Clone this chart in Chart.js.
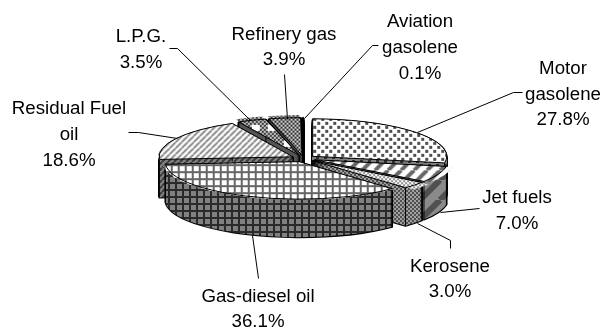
<!DOCTYPE html>
<html>
<head>
<meta charset="utf-8">
<style>html,body{margin:0;padding:0;background:#fff}canvas{display:block}</style>
<script src="https://cdn.jsdelivr.net/npm/chart.js@4"></script>
</head>
<body>
<canvas id="c" width="602" height="328"></canvas>
<script>
// ---- data ----
const categories = ['Motor gasolene','Jet fuels','Kerosene','Gas-diesel oil','Residual Fuel oil','L.P.G.','Refinery gas','Aviation gasolene'];
const shares = [27.8, 7.0, 3.0, 36.1, 18.6, 3.5, 3.9, 0.1];
const labelLines = [
  ['Motor','gasolene','27.8%'],
  ['Jet fuels','7.0%'],
  ['Kerosene','3.0%'],
  ['Gas-diesel oil','36.1%'],
  ['Residual Fuel','oil','18.6%'],
  ['L.P.G.','3.5%'],
  ['Refinery gas','3.9%'],
  ['Aviation','gasolene','0.1%']
];
// ---- label layout (centre x, baseline of each line) ----
const labelX = [563, 517, 450, 258, 69, 141, 284, 420];
const labelY = [[74,100,125],[203,229],[272,297],[302,327],[114,140,166],[42,68],[40,65],[27,53,79]];
const leaders = [
  [[417,132],[513,92],[522,92]],
  [[440,212],[479,208]],
  [[417,223],[450,240],[450,248]],
  [[252,235],[258,278]],
  [[177,138],[138,132],[128,132]],
  [[250,120],[177,48],[169,48]],
  [[287,119],[284,74]],
  [[304,118],[372,45],[378,45]]
];
// ---- 3D look ----
const TILT = 0.28, DEPTH = 38, RADIUS = 134, EXPLODE = 48;

function tile(w, h, paint) {
  const c = document.createElement('canvas'); c.width = w; c.height = h;
  const g = c.getContext('2d'); paint(g, w, h);
  return g.createPattern(c, 'repeat');
}
const dots = (p, q, s, bg, fg) => tile(p, q, (g, w, h) => {
  g.fillStyle = bg; g.fillRect(0,0,w,h); g.fillStyle = fg;
  g.fillRect(0,0,s,s); g.fillRect(p/2,q/2,s,s);
});
const diag = (p, lw, bg, fg) => tile(p, p, (g, w, h) => {
  g.fillStyle = bg; g.fillRect(0,0,w,h); g.strokeStyle = fg; g.lineWidth = lw;
  for (const o of [-p,0,p]) { g.beginPath(); g.moveTo(o,p); g.lineTo(o+p,0); g.stroke(); }
});
const grid = (p, lw, bg, fg) => tile(p, p, (g, w, h) => {
  g.fillStyle = bg; g.fillRect(0,0,w,h); g.fillStyle = fg;
  g.fillRect(0,0,lw,h); g.fillRect(0,0,w,lw);
});
const lpg = (a, b, c) => tile(16, 16, (g) => {
  g.fillStyle = a; g.fillRect(0,0,16,16); g.fillStyle = b;
  for (let y=0;y<16;y+=2) for (let x=(y%4?2:0);x<16;x+=4) g.fillRect(x,y,2,2);
  g.fillStyle = c; g.fillRect(0,0,8,6); 
});

const topFills = [
  dots(8,8,3,'#ffffff','#505050'),
  diag(13,4,'#ffffff','#666666'),
  dots(4,4,2,'#ffffff','#909090'),
  grid(7,2,'#ffffff','#666666'),
  diag(6,1.6,'#ffffff','#777777'),
  lpg('#c0c0c0','#404040','#ffffff'),
  dots(4,4,2,'#d0d0d0','#303030'),
  '#000000'
];
const sideFills = [
  dots(8,8,3,'#808080','#303030'),
  diag(20,6,'#8a8a8a','#505050'),
  dots(4,4,2,'#a0a0a0','#505050'),
  grid(7,2,'#808080','#2a2a2a'),
  diag(6,2,'#808080','#3a3a3a'),
  '#555555',
  '#444444',
  '#000000'
];

function geom(el) {
  const p = el.getProps(['x','y','startAngle','endAngle','outerRadius'], true);
  const mid = (p.startAngle + p.endAngle) / 2;
  const off = (el.options.offset || 0) / 4;
  return {
    cx: p.x + Math.cos(mid) * off,
    cy: p.y + Math.sin(mid) * off * TILT,
    r: p.outerRadius, ry: p.outerRadius * TILT,
    s: p.startAngle, e: p.endAngle, mid
  };
}
function sector(ctx, g, dy) {
  ctx.beginPath();
  ctx.moveTo(g.cx, g.cy + dy);
  ctx.ellipse(g.cx, g.cy + dy, g.r, g.ry, 0, g.s, g.e);
  ctx.closePath();
}

const pie3d = {
  id: 'pie3d',
  beforeDatasetDraw(chart, args) {
    const ctx = chart.ctx;
    const arcs = args.meta.data;
    const order = arcs.map((el, i) => ({ i, g: geom(el) })).sort((a, b) => Math.sin(a.g.mid) - Math.sin(b.g.mid));
    for (const { i, g } of order) {
      ctx.save();
      ctx.strokeStyle = '#000'; ctx.lineWidth = 2; ctx.lineJoin = 'round';
      for (let d = DEPTH; d >= 1; d--) { sector(ctx, g, d); ctx.stroke(); }
      ctx.fillStyle = sideFills[i];
      for (let d = DEPTH; d >= 1; d--) { sector(ctx, g, d); ctx.fill(); }
      ctx.lineWidth = 1;
      ctx.beginPath();
      for (const t of [g.s, g.e]) {
        const x = g.cx + g.r * Math.cos(t), y = g.cy + g.ry * Math.sin(t);
        ctx.moveTo(x, y); ctx.lineTo(x, y + DEPTH);
      }
      ctx.stroke();
      ctx.restore();
    }
    // squash the library's own arcs into the tilted plane
    const y0 = arcs[0].y, c = y0 * (1 - TILT);
    const inv = new DOMMatrix().scale(1, 1 / TILT).translate(0, -c);
    topFills.forEach(f => { if (f instanceof CanvasPattern) f.setTransform(inv); });
    ctx.save();
    ctx.translate(0, c);
    ctx.scale(1, TILT);
  },
  afterDatasetDraw(chart, args) {
    const ctx = chart.ctx;
    ctx.restore();
    ctx.save();
    ctx.strokeStyle = '#000'; ctx.lineWidth = 1;
    for (const el of args.meta.data) { sector(ctx, geom(el), 0); ctx.stroke(); }
    ctx.restore();
  },
  afterDatasetsDraw(chart) {
    const ctx = chart.ctx;
    ctx.save();
    ctx.strokeStyle = '#000'; ctx.lineWidth = 1;
    for (const line of leaders) {
      ctx.beginPath();
      line.forEach(([x, y], i) => i ? ctx.lineTo(x + .5, y + .5) : ctx.moveTo(x + .5, y + .5));
      ctx.stroke();
    }
    ctx.fillStyle = '#000';
    ctx.font = '18.7px "Liberation Sans", Arial, sans-serif';
    ctx.textAlign = 'center'; ctx.textBaseline = 'alphabetic';
    labelLines.forEach((lines, i) => lines.forEach((t, j) => ctx.fillText(t, labelX[i], labelY[i][j])));
    ctx.restore();
  }
};

new Chart(document.getElementById('c'), {
  type: 'pie',
  data: {
    labels: categories,
    datasets: [{
      data: shares,
      backgroundColor: topFills,
      borderWidth: 0,
      offset: EXPLODE,
      radius: RADIUS,
      clip: false
    }]
  },
  options: {
    responsive: false,
    animation: false,
    rotation: 0,
    layout: { padding: { left: 5, bottom: 11 } },
    events: [],
    plugins: { legend: { display: false }, tooltip: { enabled: false } }
  },
  plugins: [pie3d]
});
</script>
</body>
</html>
